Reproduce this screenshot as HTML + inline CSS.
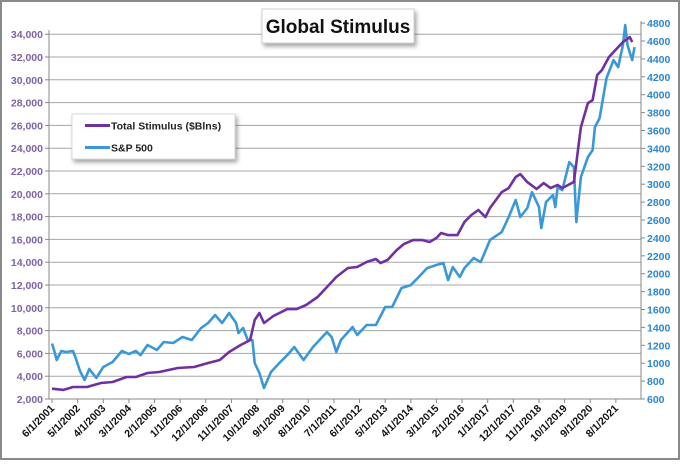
<!DOCTYPE html>
<html><head><meta charset="utf-8"><style>
html,body{margin:0;padding:0;background:#fff}
svg text{font-family:"Liberation Sans",Arial,sans-serif}
</style></head><body>
<svg id="chart" width="680" height="460" viewBox="0 0 680 460" xmlns="http://www.w3.org/2000/svg">
<defs>
<filter id="sh" x="-10%" y="-10%" width="130%" height="140%"><feDropShadow dx="2" dy="3" stdDeviation="2" flood-color="#000" flood-opacity="0.35"/></filter>
</defs>
<rect x="1" y="1" width="678" height="458" fill="#fff" stroke="#8a8a8a" stroke-width="2"/>
<g id="grid"></g>
<g id="axes"></g>
<g id="series"></g>
<g filter="url(#sh)">
<rect x="262" y="9" width="152" height="34" fill="#fff" stroke="#d0d0d0"/>
</g>
<text x="338" y="33" text-anchor="middle" font-size="19" font-weight="bold" fill="#111">Global Stimulus</text>
<g filter="url(#sh)">
<rect x="72" y="114" width="163" height="45" fill="#fff" stroke="#d8d8d8"/>
</g>
<g>
<line x1="85" y1="125.5" x2="110" y2="125.5" stroke="#7030a0" stroke-width="3"/>
<text x="111" y="129.5" font-size="10.5" font-weight="bold" fill="#222">Total Stimulus ($Blns)</text>
</g>
<g>
<line x1="85" y1="147.5" x2="110" y2="147.5" stroke="#3a98d8" stroke-width="3"/>
<text x="111" y="151.5" font-size="10.5" font-weight="bold" fill="#222">S&amp;P 500</text>
</g>
</svg>
<script>
// months since 6/1/2001
const stimMonths=[0,5,9,15,21,26,32,36,41,46,54,61,67,72,76,81,85,87,89,91,95,101,105,109,114,118,122,127,131,135,139,141,144,148,151,155,159,162,165,167,170,174,177,180,183,186,188,193,196,199,201,204,208,211,214,217,219,223,224,227,230,232,234,236,239,241,245,248,249];
const stimValues=[2900,2800,3050,3050,3400,3490,3930,3930,4280,4370,4720,4810,5160,5420,6120,6740,7170,8930,9540,8670,9280,9890,9890,10240,10950,11820,12700,13490,13580,14020,14280,13930,14190,15070,15590,15940,15940,15770,16120,16560,16380,16380,17520,18140,18580,17960,18750,20150,20500,21470,21730,21030,20420,20940,20500,20770,20500,20940,21030,25850,27960,28220,30420,30850,31990,32430,33310,33750,33310];
const spxMonths=[0,1,2,4,6,9,10,12,14,16,19,22,26,30,33,36,38,41,45,48,52,56,60,64,67,70,73,76,79,80,82,84,86,87,89,91,94,98,101,104,108,112,118,120,122,124,129,131,135,139,143,146,150,154,157,161,165,168,170,172,175,177,181,184,188,193,196,199,201,204,206,209,210,212,215,216,217,219,222,224,225,227,230,232,233,235,238,241,243,245,246,247,249,250];
const spxValues=[1220,1136,1036,1136,1125,1136,1069,913,812,935,835,957,1013,1136,1103,1136,1091,1203,1147,1237,1226,1293,1259,1393,1449,1538,1449,1561,1449,1337,1393,1259,1259,1002,890,723,902,1013,1091,1181,1036,1181,1348,1293,1125,1259,1404,1315,1427,1427,1628,1628,1840,1873,1952,2063,2097,2119,1929,2074,1963,2063,2175,2130,2376,2465,2633,2823,2633,2733,2912,2744,2510,2800,2879,2744,2968,2934,3247,3191,2577,3080,3303,3381,3638,3739,4186,4387,4308,4554,4778,4554,4387,4532];
const leftTicks=[2000,4000,6000,8000,10000,12000,14000,16000,18000,20000,22000,24000,26000,28000,30000,32000,34000];
const rightTicks=[600,800,1000,1200,1400,1600,1800,2000,2200,2400,2600,2800,3000,3200,3400,3600,3800,4000,4200,4400,4600,4800];
const xLabels=["6/1/2001","5/1/2002","4/1/2003","3/1/2004","2/1/2005","1/1/2006","12/1/2006","11/1/2007","10/1/2008","9/1/2009","8/1/2010","7/1/2011","6/1/2012","5/1/2013","4/1/2014","3/1/2015","2/1/2016","1/1/2017","12/1/2017","11/1/2018","10/1/2019","9/1/2020","8/1/2021"];
const labelStep=11;

const NS="http://www.w3.org/2000/svg";
const PL=49,PR=641,PB=399;
const x=m=>52+m*2.33;
const yL=v=>399-(v-2000)/2000*22.8;
const yR=v=>399-(v-600)/200*17.9;
function mk(tag,attrs,parent){const e=document.createElementNS(NS,tag);for(const k in attrs)e.setAttribute(k,attrs[k]);parent.appendChild(e);return e;}
const grid=document.getElementById('grid'),axes=document.getElementById('axes'),series=document.getElementById('series');
leftTicks.forEach(v=>{
  const g=mk('line',{x1:PL,x2:PR,y1:yL(v),y2:yL(v),stroke:'#a6a6a6','stroke-width':1},grid);
  
  
  mk('line',{x1:PL-4,x2:PL,y1:yL(v),y2:yL(v),stroke:'#888'},axes);
  const t=mk('text',{x:PL-6,y:yL(v)+4,'text-anchor':'end','font-size':10.5,'font-weight':'bold',fill:'#7f62a8'},axes);
  t.textContent=v.toLocaleString('en-US');
  
  
});
rightTicks.forEach(v=>{
  mk('line',{x1:PR,x2:PR+4,y1:yR(v),y2:yR(v),stroke:'#888'},axes);
  const t=mk('text',{x:PR+6,y:yR(v)+4,'font-size':10.5,'font-weight':'bold',fill:'#2a86d0'},axes);
  t.textContent=String(v);
  
  
});
mk('line',{x1:PL,x2:PL,y1:yL(34000)-4,y2:PB,stroke:'#888'},axes);
mk('line',{x1:PR,x2:PR,y1:yR(4800)-2,y2:PB,stroke:'#888'},axes);
mk('line',{x1:PL,x2:PR,y1:PB,y2:PB,stroke:'#888'},axes);
xLabels.forEach((l,i)=>{
  const xx=x(i*labelStep);
  mk('line',{x1:xx,x2:xx,y1:PB,y2:PB+4,stroke:'#888'},axes);
  const t=mk('text',{x:xx+3,y:PB+10,'text-anchor':'end','font-size':10.5,'font-weight':'bold',fill:'#111',transform:`rotate(-45 ${xx+3} ${PB+10})`},axes);
  t.textContent=l;
  
  
});
const pS=spxMonths.map((m,i)=>x(m).toFixed(1)+','+yR(spxValues[i]).toFixed(1)).join(' ');
const l1=mk('polyline',{points:pS,fill:'none',stroke:'#3a98d8','stroke-width':2.6,'stroke-linejoin':'round'},series);


const pT=stimMonths.map((m,i)=>x(m).toFixed(1)+','+yL(stimValues[i]).toFixed(1)).join(' ');
const l2=mk('polyline',{points:pT,fill:'none',stroke:'#7030a0','stroke-width':2.6,'stroke-linejoin':'round'},series);


</script>
</body></html>
